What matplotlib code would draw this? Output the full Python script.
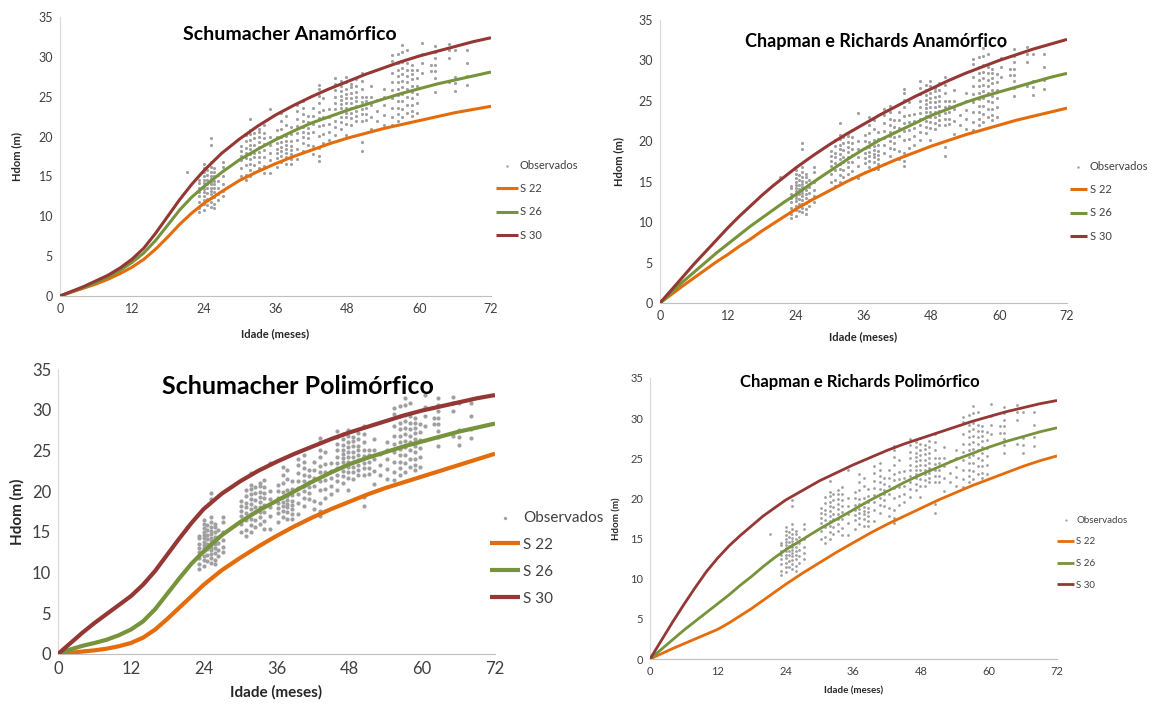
import matplotlib
matplotlib.use('Agg')
import matplotlib.pyplot as plt

plt.rcParams['font.family'] = ['Lato', 'DejaVu Sans']

W, H = 1152, 709

# idade (meses) onde as curvas foram lidas
ages = [0, 2, 4, 6, 8, 10, 12, 14, 16, 18, 20, 22, 24,
        27, 30, 33, 36, 39, 42, 45, 48, 51, 54, 57, 60, 63, 66, 69, 72]

# Schumacher anamorfico
sa_s22 = [0, 0.5, 1.0, 1.5, 2.1, 2.8, 3.6, 4.6, 5.9, 7.4, 9.0, 10.4, 11.6,
          13.1, 14.5, 15.6, 16.6, 17.5, 18.3, 19.1, 19.8, 20.4, 21.0, 21.5, 22.0, 22.5, 23.0, 23.4, 23.8]
sa_s26 = [0, 0.55, 1.1, 1.7, 2.4, 3.2, 4.2, 5.4, 7.0, 8.9, 10.8, 12.4, 13.7,
          15.5, 17.1, 18.4, 19.6, 20.7, 21.7, 22.5, 23.3, 24.0, 24.7, 25.4, 26.0, 26.6, 27.1, 27.6, 28.1]
sa_s30 = [0, 0.6, 1.2, 1.9, 2.6, 3.5, 4.6, 6.0, 7.9, 10.0, 12.1, 14.0, 15.7,
          17.9, 19.7, 21.3, 22.7, 23.9, 25.0, 26.0, 26.9, 27.8, 28.6, 29.4, 30.1, 30.7, 31.3, 31.9, 32.4]

# Chapman e Richards anamorfico
ca_s22 = [0, 1.05, 2.1, 3.1, 4.1, 5.1, 6.0, 7.0, 7.9, 8.9, 9.8, 10.7, 11.6,
          12.8, 13.9, 15.0, 16.0, 16.9, 17.8, 18.6, 19.4, 20.1, 20.8, 21.4, 22.0, 22.6, 23.1, 23.6, 24.1]
ca_s26 = [0, 1.3, 2.6, 3.8, 5.0, 6.2, 7.3, 8.4, 9.5, 10.5, 11.5, 12.5, 13.4,
          14.9, 16.3, 17.7, 19.0, 20.2, 21.2, 22.2, 23.2, 24.0, 24.8, 25.5, 26.1, 26.7, 27.3, 27.9, 28.4]
ca_s30 = [0, 1.6, 3.2, 4.8, 6.3, 7.8, 9.3, 10.7, 12.0, 13.3, 14.5, 15.6, 16.7,
          18.2, 19.6, 20.9, 22.1, 23.3, 24.4, 25.5, 26.5, 27.5, 28.4, 29.2, 30.0, 30.7, 31.4, 32.0, 32.6]

# Schumacher polimorfico
sp_s22 = [0, 0.15, 0.3, 0.45, 0.65, 0.95, 1.35, 2.0, 3.0, 4.3, 5.7, 7.1, 8.5,
          10.3, 11.8, 13.2, 14.5, 15.7, 16.8, 17.8, 18.7, 19.6, 20.4, 21.1, 21.8, 22.5, 23.2, 23.9, 24.6]
sp_s26 = [0, 0.55, 1.0, 1.35, 1.75, 2.3, 3.0, 4.0, 5.5, 7.4, 9.3, 11.1, 12.6,
          14.6, 16.2, 17.6, 18.8, 20.0, 21.2, 22.3, 23.3, 24.1, 24.8, 25.5, 26.1, 26.7, 27.3, 27.8, 28.3]
sp_s30 = [0, 1.3, 2.6, 3.8, 4.9, 6.0, 7.1, 8.5, 10.2, 12.2, 14.2, 16.1, 17.8,
          19.7, 21.2, 22.5, 23.6, 24.6, 25.5, 26.4, 27.2, 27.9, 28.6, 29.3, 29.9, 30.4, 30.9, 31.4, 31.8]

# Chapman e Richards polimorfico
cp_s22 = [0, 0.65, 1.3, 1.9, 2.5, 3.1, 3.7, 4.5, 5.4, 6.3, 7.3, 8.3, 9.3,
          10.7, 12.0, 13.3, 14.5, 15.7, 16.8, 17.8, 18.8, 19.8, 20.7, 21.6, 22.4, 23.2, 24.0, 24.7, 25.3]
cp_s26 = [0, 1.2, 2.4, 3.6, 4.7, 5.8, 6.9, 8.0, 9.2, 10.3, 11.5, 12.6, 13.6,
          14.9, 16.2, 17.4, 18.6, 19.8, 20.9, 22.0, 23.0, 23.9, 24.8, 25.6, 26.4, 27.1, 27.7, 28.3, 28.8]
cp_s30 = [0, 2.3, 4.6, 6.8, 8.9, 10.9, 12.6, 14.1, 15.4, 16.6, 17.8, 18.8, 19.8,
          21.0, 22.2, 23.2, 24.2, 25.1, 26.0, 26.8, 27.5, 28.2, 28.9, 29.6, 30.2, 30.8, 31.3, 31.8, 32.2]

# observados: idade de cada coluna de parcelas e alturas dominantes
obs_age = [21.2, 23.2, 24.0, 24.6, 25.2, 25.8, 26.4, 27.2, 30.2, 31.0, 31.8, 32.4, 33.2, 34.0, 35.0,
           36.2, 37.0, 37.8, 38.6, 39.6, 40.6, 41.4, 42.2, 43.2, 44.0, 45.0, 46.0, 47.0, 47.8,
           48.6, 49.4, 50.4, 51.2, 52.0, 53.0, 54.2, 55.4, 56.4, 57.2, 58.0, 58.8, 59.6,
           60.4, 62.0, 62.6, 65.0, 66.0, 68.0, 70.2, 71.0, 72.0]
obs_hdom = [
    [15.6],
    [10.5, 11.0, 11.8, 12.5, 13.0, 13.5, 14.2, 14.5],
    [10.8, 11.5, 12.0, 12.6, 13.0, 13.4, 13.8, 14.2, 14.6, 15.0, 15.5, 16.0, 16.5],
    [11.4, 12.2, 12.9, 13.5, 14.1, 14.6, 15.2, 15.8],
    [11.2, 11.8, 12.3, 12.8, 13.2, 13.6, 14.0, 14.3, 14.7, 15.1, 15.6, 16.2, 16.8, 19.0, 19.8],
    [11.0, 11.6, 12.4, 13.0, 13.5, 14.0, 14.4, 15.0, 15.6, 16.0],
    [12.0, 12.8, 13.6, 14.4, 15.2],
    [12.5, 13.2, 14.0, 15.0, 16.2, 16.8],
    [15.0, 16.0, 17.0, 17.6, 18.2, 18.8],
    [14.5, 15.2, 16.4, 17.3, 18.0, 18.6, 19.4, 20.2],
    [15.0, 15.8, 16.6, 17.2, 17.8, 18.4, 19.0, 19.6, 20.3, 20.8, 22.2],
    [15.6, 16.4, 17.4, 18.0, 18.9, 19.8, 20.5],
    [16.0, 16.8, 17.5, 18.1, 18.7, 19.3, 19.9, 20.6, 21.0],
    [15.4, 16.3, 17.4, 18.3, 19.1, 19.8, 20.5, 21.4],
    [15.4, 17.0, 18.0, 19.0, 20.0, 23.5],
    [16.2, 17.3, 17.9, 18.5, 19.2, 20.0, 20.8],
    [16.8, 17.6, 18.2, 18.7, 19.3, 19.9, 21.0, 22.0, 23.0],
    [16.6, 17.4, 18.0, 18.4, 18.9, 19.4, 20.1, 21.5, 22.6],
    [16.6, 17.2, 17.8, 18.3, 18.8, 19.5, 20.3, 21.2],
    [17.2, 18.5, 19.6, 20.4, 21.3, 22.2, 23.2, 24.0],
    [18.2, 19.2, 20.0, 20.6, 21.2, 22.0, 22.8, 23.6, 24.4],
    [19.0, 19.8, 20.5, 21.1, 21.8, 22.6],
    [17.8, 18.8, 20.6, 21.6, 22.6, 23.6],
    [16.9, 17.6, 18.6, 20.1, 21.3, 22.3, 23.1, 24.2, 25.1, 26.0, 26.5],
    [19.2, 20.3, 21.4, 22.4, 23.3, 24.8],
    [19.6, 20.6, 21.6, 22.5, 23.4],
    [20.2, 21.2, 22.0, 22.8, 23.5, 24.2, 25.0, 25.8, 26.6, 27.4],
    [21.0, 21.8, 22.5, 23.1, 23.6, 24.1, 24.6, 25.1, 25.7, 26.4, 27.0],
    [20.2, 21.6, 22.4, 23.0, 23.6, 24.2, 24.8, 25.4, 26.0, 26.8, 27.5],
    [21.5, 22.3, 23.0, 23.6, 24.2, 24.8, 25.5, 26.2, 26.6],
    [22.0, 22.6, 23.2, 23.8, 24.4, 25.0, 25.6, 26.4, 27.2],
    [18.2, 19.3, 22.0, 22.8, 23.5, 24.3, 25.0, 26.0, 27.0, 28.0],
    [22.1, 22.8, 23.6, 24.4, 25.0],
    [20.9, 22.5, 24.0, 25.0, 26.4],
    [22.0, 23.2, 24.6],
    [21.5, 22.7, 23.9, 25.0, 26.0],
    [21.4, 22.4, 23.6, 24.8, 25.8, 26.8, 28.0, 29.5, 30.2],
    [22.0, 22.8, 23.6, 24.4, 25.2, 26.0, 26.8, 27.6, 28.4, 29.2, 30.4],
    [22.4, 23.4, 24.4, 25.4, 26.2, 27.0, 27.8, 28.6, 29.4, 30.6, 31.5],
    [23.0, 24.0, 25.0, 26.0, 26.8, 27.6, 28.4, 29.2, 30.8],
    [22.6, 23.2, 24.0, 24.8, 25.6, 26.4, 27.2, 27.8, 28.4, 29.0],
    [23.0, 24.2, 25.3, 26.3, 27.3, 28.3],
    [28.0, 29.2, 30.3, 31.8],
    [28.2, 29.0],
    [25.6, 26.6, 27.4, 28.2, 29.0, 29.8, 30.6, 31.4],
    [26.8, 29.8, 30.8, 31.6],
    [25.7, 26.7, 27.5, 30.8],
    [26.5, 27.6, 29.2, 30.8],
]

obs_x, obs_y = [], []
for a, hs in zip(obs_age, obs_hdom):
    for h in hs:
        obs_x.append(a)
        obs_y.append(h)

labels = ['S 22', 'S 26', 'S 30']
colors = ['#E46C0A', '#77933C', '#953735']
xticks = [0, 12, 24, 36, 48, 60, 72]

fig = plt.figure(figsize=(W / 100, H / 100), dpi=100)


def panel(box, curves, title, title_xy, title_fs, tick_fs, lab_fs, lw, ms,
          leg_xy, leg_fs, leg_sp, hlen, ylab_x, xlab_y):
    x0, yt, x1, yb = box
    ax = fig.add_axes([x0 / W, 1 - yb / H, (x1 - x0) / W, (yb - yt) / H])
    ax.scatter(obs_x, obs_y, s=ms, color='#A0A0A0', linewidths=0,
               label='Observados', zorder=2)
    for c, lab, col in zip(curves, labels, colors):
        ax.plot(ages, c, color=col, lw=lw, label=lab, zorder=3,
                solid_joinstyle='round', solid_capstyle='butt')
    ax.set_xlim(0, 72)
    ax.set_ylim(0, 35)
    ax.set_xticks(xticks)
    ax.set_yticks(range(0, 36, 5))
    ax.tick_params(length=0, labelsize=tick_fs, colors='#404040', pad=5)
    for s in ['top', 'right']:
        ax.spines[s].set_visible(False)
    ax.spines['left'].set_color('#D9D9D9')
    ax.spines['bottom'].set_color('#BFBFBF')
    fig.text(title_xy[0] / W, 1 - title_xy[1] / H, title, fontsize=title_fs,
             fontweight='bold', ha='center', va='center')
    fig.text(ylab_x / W, 1 - (yt + yb) / 2 / H, 'Hdom (m)', rotation=90,
             fontsize=lab_fs, fontweight='bold', ha='center', va='center',
             color='#262626')
    fig.text((x0 + x1) / 2 / W, 1 - xlab_y / H, 'Idade (meses)',
             fontsize=lab_fs, fontweight='bold', ha='center', va='center',
             color='#262626')
    leg = ax.legend(loc='upper left', bbox_to_anchor=(leg_xy[0] / W, 1 - leg_xy[1] / H),
                    bbox_transform=fig.transFigure, frameon=False, fontsize=leg_fs,
                    labelspacing=leg_sp, handlelength=hlen, handletextpad=0.2,
                    markerscale=0.8, borderpad=0)
    for t in leg.get_texts():
        t.set_color('#404040')
    return ax


panel((60, 17, 491, 296), [sa_s22, sa_s26, sa_s30], 'Schumacher Anamórfico',
      (290, 35), 14, 9, 8, 2.2, 5, (490, 154), 8, 1.12, 2.0, 17, 334)
panel((660, 20, 1067, 303), [ca_s22, ca_s26, ca_s30], 'Chapman e Richards Anamórfico',
      (876, 42), 13, 9, 8, 2.2, 5, (1064, 155), 8, 1.12, 1.6, 619, 337)
panel((58, 369, 495, 654), [sp_s22, sp_s26, sp_s30], 'Schumacher Polimórfico',
      (298, 387), 18, 12, 11, 3.0, 9, (482, 503), 11, 0.85, 2.0, 17, 692)
panel((650, 378, 1057, 659), [cp_s22, cp_s26, cp_s30], 'Chapman e Richards Polimórfico',
      (860, 382), 12, 8, 7, 2.0, 4, (1052, 511), 7, 1.3, 1.8, 617, 691)

fig.savefig('out.png', dpi=100)
